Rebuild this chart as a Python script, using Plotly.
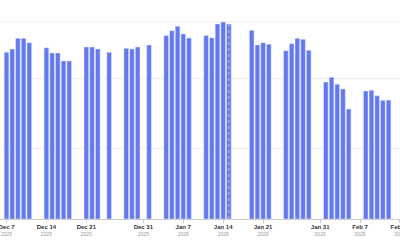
import plotly.graph_objects as go
import pandas as pd

dates = [
    "2025-12-07", "2025-12-08", "2025-12-09", "2025-12-10", "2025-12-11",
    "2025-12-14", "2025-12-15", "2025-12-16", "2025-12-17", "2025-12-18",
    "2025-12-21", "2025-12-22", "2025-12-23", "2025-12-25",
    "2025-12-28", "2025-12-29", "2025-12-30", "2026-01-01",
    "2026-01-04", "2026-01-05", "2026-01-06", "2026-01-07", "2026-01-08",
    "2026-01-11", "2026-01-12", "2026-01-13", "2026-01-14", "2026-01-15",
    "2026-01-19", "2026-01-20", "2026-01-21", "2026-01-22",
    "2026-01-25", "2026-01-26", "2026-01-27", "2026-01-28", "2026-01-29",
    "2026-02-01", "2026-02-02", "2026-02-03", "2026-02-04", "2026-02-05",
    "2026-02-08", "2026-02-09", "2026-02-10", "2026-02-11", "2026-02-12",
]
values = [
    118.6, 120.9, 128.5, 128.5, 125.4,
    121.8, 118.1, 118.1, 112.4, 112.4,
    122.3, 122.3, 120.9, 118.6,
    121.4, 120.9, 122.3, 123.8,
    130.4, 133.9, 137.1, 131.6, 128.7,
    130.4, 128.9, 138.7, 140.1, 138.7,
    134.2, 123.8, 125.4, 124.3,
    119.7, 124.7, 128.5, 127.8, 120.0,
    97.4, 100.8, 95.8, 92.5, 78.2,
    91.0, 91.5, 87.7, 84.4, 84.6,
]
tick_dates = ["2025-12-07", "2025-12-14", "2025-12-21", "2025-12-31",
              "2026-01-07", "2026-01-14", "2026-01-21", "2026-01-31",
              "2026-02-07", "2026-02-14"]
tick_days = ["Dec 7", "Dec 14", "Dec 21", "Dec 31", "Jan 7", "Jan 14",
             "Jan 21", "Jan 31", "Feb 7", "Feb 14"]
tick_years = ["2025", "2025", "2025", "2025", "2026", "2026",
              "2026", "2026", "2026", "2026"]
highlight_date = "2026-01-15"

ticktext = [
    f"<span style='font-size:6px;color:#333'><b>{d}</b></span><br>{y}"
    for d, y in zip(tick_days, tick_years)
]

fig = go.Figure()
fig.add_trace(go.Bar(
    x=dates, y=values,
    marker=dict(color="#6478F0", line=dict(color="#E5ECF6", width=0.5)),
))

x_start = pd.Timestamp("2025-12-07") - pd.Timedelta(days=6.5 / 5.701)
x_end = pd.Timestamp("2026-02-14 00:05")

fig.add_shape(type="line", xref="paper", x0=0, x1=1, yref="y",
              y0=max(values), y1=max(values),
              line=dict(color="#EEEEEE", width=1), layer="below")
fig.add_shape(type="line", xref="x", x0=highlight_date, x1=highlight_date,
              yref="paper", y0=0, y1=1,
              line=dict(color="rgba(255,255,255,0.6)", width=1, dash="dot"))

fig.update_layout(
    width=400, height=240,
    margin=dict(l=0, r=0, t=12, b=21),
    paper_bgcolor="white", plot_bgcolor="white",
    showlegend=False,
    bargap=0.18,
    font=dict(family="Liberation Sans, Arial, sans-serif"),
    xaxis=dict(
        type="date",
        range=[x_start, x_end],
        tickmode="array", tickvals=tick_dates, ticktext=ticktext,
        tickfont=dict(size=5, color="#999999"),
        ticklabeloverflow="allow",
        ticks="outside", ticklen=3, tickcolor="#CCCCCC", tickwidth=1,
        showline=True, linecolor="#CCCCCC", linewidth=1,
        showgrid=False, automargin=False,
    ),
    yaxis=dict(
        range=[0, 147.2],
        dtick=50, showticklabels=False,
        showgrid=True, gridcolor="#EEEEEE", gridwidth=1,
        zeroline=False, automargin=False,
    ),
)

fig.write_html("out.html")
